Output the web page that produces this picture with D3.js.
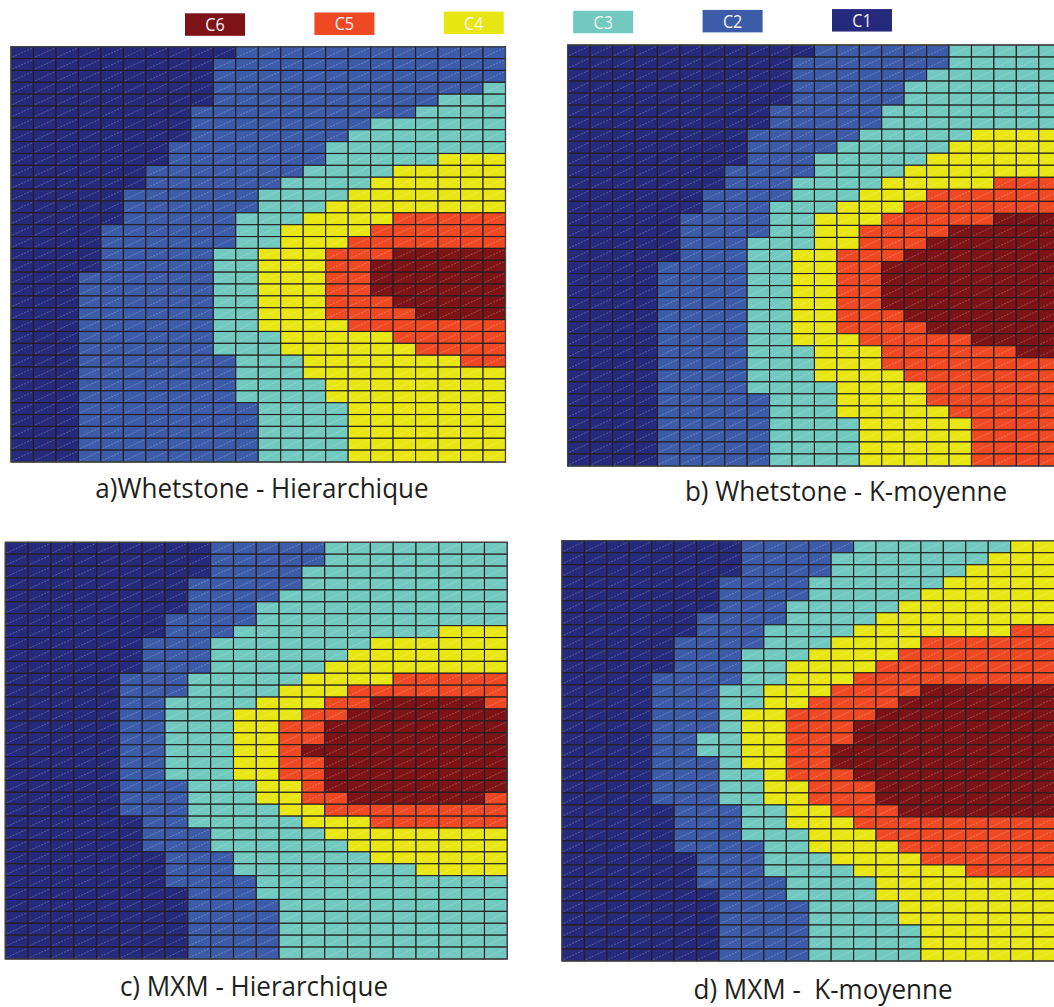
<!DOCTYPE html>
<html><head><meta charset="utf-8">
<script src="https://cdn.jsdelivr.net/npm/d3@7"></script>
<style>html,body{margin:0;padding:0;background:#fff;overflow:hidden} text{white-space:pre}</style>
</head><body>
<script>
const categories = ["C1","C2","C3","C4","C5","C6"];
const colors = ["#262a7c","#3c5caa","#71c9bf","#e8e714","#ef4923","#7d1316"];
const legendOrder = ["C6","C5","C4","C3","C2","C1"];
const titles = ["a)Whetstone - Hierarchique","b) Whetstone - K-moyenne","c) MXM - Hierarchique","d) MXM -  K-moyenne"];

const panelA = [
"1111111111222222222222","1111111112222222222222","1111111112222222222222","1111111112222222222223",
"1111111112222222222333","1111111122222222223333","1111111122222222333333","1111111122222223333333",
"1111111222222233333333","1111111222222233333444","1111112222222333344444","1111112222223333444444",
"1111122222233334444444","1111122222233344444444","1111122222333444455555","1111222222334444555555",
"1111222222334445555555","1111222223344455566666","1111222223344455666666","1112222223344455666666",
"1112222223344455666666","1112222223344455566666","1112222223344455556666","1112222223344445555555",
"1112222223334444455555","1112222223334444445555","1112222222333444444455","1112222222333444444444",
"1112222222333344444444","1112222222333344444444","1112222222233334444444","1112222222233334444444",
"1112222222233334444444","1112222222233334444444","1112222222233334444444"];

const panelB = [
"1111111111122222233333","1111111111222222233333","1111111111222222333333","1111111111222223333333",
"1111111111222223333333","1111111112222233333333","1111111112222233333333","1111111122222333334444",
"1111111122223333344444","1111111122233333444444","1111111222233334444444","1111111222333344444555",
"1111112222333444555555","1111112223334445555555","1111122223344455555666","1111122223344555566666",
"1111122233344555666666","1111122233445556666666","1111222233445566666666","1111222233445566666666",
"1111222233445566666666","1111222233445566666666","1111222233445556666666","1111222233445555666666",
"1111222233444555556666","1111222233344455555566","1111222233344455555555","1111222233344445555555",
"1111222233334444555555","1111222223334444555555","1111222223334444455555","1111222223333444445555",
"1111222223333444445555","1111222223333444445555","1111222223333444445555"];

const panelC = [
"1111111112222233333333","1111111112222233333333","1111111112222333333333","1111111122222333333333",
"1111111122223333333333","1111111122233333333333","1111111222233333333333","1111111222333333333444",
"1111112223333333444444","1111112223333334444444","1111112223333344444444","1111122233333444455555",
"1111122233334445555555","1111122333344455666665","1111122333444556666666","1111122333445566666666",
"1111122333445566666666","1111122333445666666666","1111122333445566666666","1111122333445566666666",
"1111122233344566666666","1111122233344556666665","1111122233334455555555","1111112233333444555555",
"1111112223333344444444","1111112223333334444444","1111111222333333444444","1111111222333333334444",
"1111111222233333333333","1111111122233333333333","1111111122223333333333","1111111122223333333333",
"1111111122223333333333","1111111122223333333333","1111111122223333333333"];

const panelD = [
"1111111122222333333344","1111111122223333333444","1111111122223333334444","1111111222233333344444",
"1111111222233333444444","1111111222333334444444","1111112222333344444444","1111112223333444444455",
"1111122223334444555555","1111122233344445555555","1111122233444455555555","1111222233444555555555",
"1111222334445555666666","1111222334455556666666","1111222344555566666666","1111222344555666666666",
"1111223344555666666666","1111223344556666666666","1111222344556666666666","1111222334555666666666",
"1111222334455566666666","1111222334455566666666","1111122233445556666666","1111122233444555555555",
"1111122233344455555555","1111122223344445555555","1111112223334444555555","1111112223333444445555",
"1111112222333344444444","1111111222333344444444","1111111222233334444444","1111111222233334444444",
"1111111222233333444444","1111111222233333444444","1111111222233333444444"];

const W = 1054, H = 1007;
const svg = d3.select("body").append("svg").attr("width", W).attr("height", H);
svg.append("rect").attr("width", W).attr("height", H).attr("fill", "#fff");

const color = d3.scaleOrdinal().domain(categories).range(colors);

const panels = [
  {data: panelA, x0: 11,    y0: 46.7,  w: 494.5, h: 415.3, title: titles[0], tx: 262, ty: 498},
  {data: panelB, x0: 567.7, y0: 45,    w: 493.5, h: 421,   title: titles[1], tx: 846, ty: 501},
  {data: panelC, x0: 5.3,   y0: 542.3, w: 502,   h: 416.7, title: titles[2], tx: 254, ty: 996},
  {data: panelD, x0: 562,   y0: 540.7, w: 493.5, h: 420.3, title: titles[3], tx: 823, ty: 999}
];

panels.forEach(p => {
  const nRows = p.data.length, nCols = p.data[0].length;
  const x = d3.scaleBand().domain(d3.range(nCols)).range([p.x0, p.x0 + p.w]);
  const y = d3.scaleBand().domain(d3.range(nRows)).range([p.y0, p.y0 + p.h]);
  const cells = [];
  p.data.forEach((row, r) => row.split("").forEach((k, c) => cells.push({r, c, k: "C" + k})));
  const g = svg.append("g");
  g.selectAll("rect.cell").data(cells).join("rect")
    .attr("class", "cell")
    .attr("x", d => x(d.c)).attr("y", d => y(d.r))
    .attr("width", x.bandwidth()).attr("height", y.bandwidth())
    .attr("fill", d => color(d.k))
    .attr("stroke", "#231f20").attr("stroke-width", 1.1);
  g.selectAll("line.hatch").data(cells).join("line")
    .attr("class", "hatch")
    .attr("x1", d => x(d.c) + 1.5).attr("y1", d => y(d.r) + y.bandwidth() - 1.5)
    .attr("x2", d => x(d.c) + x.bandwidth() - 1.5).attr("y2", d => y(d.r) + 1.5)
    .attr("stroke", "#ffffff").attr("stroke-opacity", 0.4)
    .attr("stroke-width", 0.6).attr("stroke-dasharray", "2,1.2");
  g.append("rect").attr("x", p.x0).attr("y", p.y0).attr("width", p.w).attr("height", p.h)
    .attr("fill", "none").attr("stroke", "#444").attr("stroke-width", 1.2);
  svg.append("text").attr("x", 0).attr("y", 0)
    .attr("transform", `translate(${p.tx},${p.ty}) scale(0.93,1)`)
    .attr("text-anchor", "middle")
    .attr("font-family", "'Open Sans', sans-serif")
    .attr("font-size", 28).attr("fill", "#231f20")
    .text(p.title);
});

// legend
const lx = d3.scalePoint().domain(legendOrder).range([185, 832]);
const lg = svg.append("g");
legendOrder.forEach((k, i) => {
  const yy = 13.3 - i * 0.85;
  lg.append("rect").attr("x", lx(k)).attr("y", yy).attr("width", 60).attr("height", 22.5)
    .attr("fill", color(k));
  lg.append("text").attr("x", 0).attr("y", 0)
    .attr("transform", `translate(${lx(k) + 30},${yy + 18}) scale(0.85,1)`)
    .attr("text-anchor", "middle").attr("fill", "#f4f4f4")
    .attr("font-family", "'Open Sans', sans-serif").attr("font-size", 19)
    .text(k);
});
</script>
</body></html>
